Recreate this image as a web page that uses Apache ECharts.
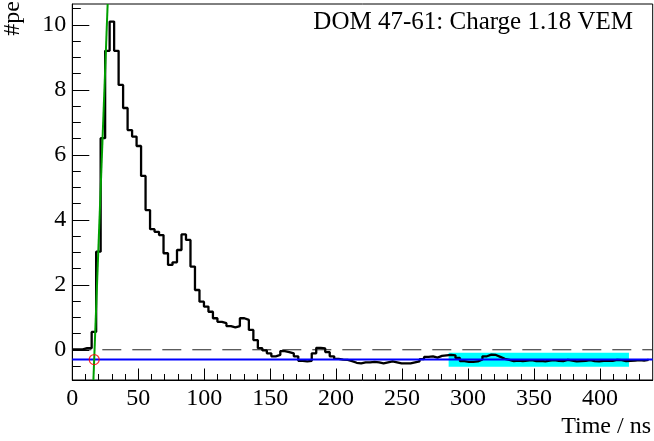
<!DOCTYPE html>
<html><head><meta charset="utf-8">
<script src="https://cdn.jsdelivr.net/npm/echarts@6/dist/echarts.min.js"></script>
<style>html,body{margin:0;padding:0;background:#fff}#c{width:654px;height:441px}</style>
</head><body><div id="c"></div>
<script>
// ---- data ----
const binStart = 1.06;      // ns, left edge of bin 0
const binWidth = 3.405;     // ns per bin
const peCounts = [
  0.01, 0.01, 0.05, 0.05, 0.55, 3.02, 6.51, 9.20, 10.10, 9.20,
  8.15, 7.44, 6.76, 6.56, 6.27, 5.35, 4.30, 3.71, 3.63, 3.53,
  2.97, 2.61, 2.69, 3.07, 3.55, 3.38, 2.56, 1.84, 1.48, 1.33,
  1.17, 0.97, 0.86, 0.82, 0.73, 0.69, 0.73, 0.97, 0.92, 0.61,
  0.30, 0.05, -0.02, -0.11, -0.20, -0.16, -0.04, -0.07, -0.11, -0.20,
  -0.34, -0.36, -0.34, -0.11, 0.06, 0.04, -0.07, -0.20, -0.28, -0.30,
  -0.31, -0.35, -0.40, -0.42, -0.39, -0.39, -0.37, -0.39, -0.42, -0.39,
  -0.36, -0.39, -0.42, -0.42, -0.42, -0.39, -0.36, -0.29, -0.22, -0.20,
  -0.24, -0.19, -0.17, -0.16, -0.17, -0.25, -0.35, -0.37, -0.37, -0.36,
  -0.30, -0.20, -0.15, -0.16, -0.22, -0.28, -0.31, -0.35, -0.33, -0.35,
  -0.33, -0.32, -0.35, -0.34, -0.36, -0.33, -0.32, -0.34, -0.35, -0.31,
  -0.33, -0.36, -0.35, -0.34, -0.32, -0.35, -0.36, -0.34, -0.33, -0.34,
  -0.31, -0.32, -0.35, -0.34, -0.33, -0.32, -0.33, -0.31
];
const xRange = [0, 440];
const yRange = [-0.93, 10.64];
const xTicksMajor = [0, 50, 100, 150, 200, 250, 300, 350, 400];
const xTicksMinor = [10,20,30,40,60,70,80,90,110,120,130,140,160,170,180,190,210,220,230,240,260,270,280,290,310,320,330,340,360,370,380,390,410,420,430];
const yTicksMajor = [0, 2, 4, 6, 8, 10];
const yTicksMinor = [-0.5,0.5,1,1.5,2.5,3,3.5,4.5,5,5.5,6.5,7,7.5,8.5,9,9.5,10.5];
const zeroLine = [[0, 0], [440, 0]];
const baselineLine = [[0, -0.30], [440, -0.30]];
const baselineWindow = [[285.3, -0.09], [422, -0.52]];
const leadingEdgeFit = [[16.0, -0.93], [26.8, 10.64]];
const startTime = [[16.6, -0.30]];
const title = 'DOM 47-61: Charge 1.18 VEM';
const xName = 'Time / ns';
const yName = '#pe';

// ---- build ----
const FONT = '"Liberation Serif", "Times New Roman", serif';
const histPts = peCounts.map((v, i) => [i === 0 ? xRange[0] : binStart + i * binWidth, v]);
histPts.push([binStart + peCounts.length * binWidth, peCounts[peCounts.length - 1]]);

const chart = echarts.init(document.getElementById('c'), null, {renderer: 'canvas'});
const axCommonX = {type: 'value', min: xRange[0], max: xRange[1], position: 'bottom', splitLine: {show: false}};
const axCommonY = {type: 'value', min: yRange[0], max: yRange[1], position: 'left', splitLine: {show: false}};
chart.setOption({
  animation: false,
  backgroundColor: '#fff',
  grid: {left: 72.3, right: 1.3, top: 4, bottom: 61, show: true, borderColor: '#000', borderWidth: 1, containLabel: false},
  xAxis: [
    Object.assign({}, axCommonX, {
      axisLine: {show: true, onZero: false, lineStyle: {color: '#000', width: 1}},
      axisTick: {show: true, inside: true, length: 11.5, customValues: xTicksMajor, lineStyle: {color: '#000', width: 1}},
      axisLabel: {show: true, customValues: xTicksMajor, margin: 7, color: '#000', fontSize: 24, fontFamily: FONT}
    }),
    Object.assign({}, axCommonX, {
      axisLine: {show: false, onZero: false},
      axisTick: {show: true, inside: true, length: 6, customValues: xTicksMinor, lineStyle: {color: '#000', width: 1}},
      axisLabel: {show: false}
    })
  ],
  yAxis: [
    Object.assign({}, axCommonY, {
      axisLine: {show: true, onZero: false, lineStyle: {color: '#000', width: 1}},
      axisTick: {show: true, inside: true, length: 17, customValues: yTicksMajor, lineStyle: {color: '#000', width: 1}},
      axisLabel: {show: true, customValues: yTicksMajor, margin: 6, color: '#000', fontSize: 24, fontFamily: FONT}
    }),
    Object.assign({}, axCommonY, {
      axisLine: {show: false, onZero: false},
      axisTick: {show: true, inside: true, length: 8.5, customValues: yTicksMinor, lineStyle: {color: '#000', width: 1}},
      axisLabel: {show: false}
    })
  ],
  series: [
    {
      type: 'line', data: zeroLine, symbol: 'none', silent: true, z: 2,
      lineStyle: {color: '#222', width: 1, type: [19, 11]},
      markArea: {silent: true, itemStyle: {color: '#00ffff', opacity: 1}, data: [[{coord: baselineWindow[0]}, {coord: baselineWindow[1]}]]}
    },
    {
      type: 'line', data: histPts, step: 'end', symbol: 'none', z: 3,
      lineStyle: {color: '#000', width: 2.3}
    },
    {
      type: 'line', data: baselineLine, symbol: 'none', z: 4,
      lineStyle: {color: '#0000ff', width: 2}
    },
    {
      type: 'line', data: leadingEdgeFit, symbol: 'none', z: 5, clip: true,
      lineStyle: {color: '#00a000', width: 2}
    },
    {
      type: 'scatter', data: startTime, symbol: 'circle', symbolSize: 10, z: 6,
      itemStyle: {color: 'rgba(0,0,0,0)', borderColor: '#ff0000', borderWidth: 1.2}
    }
  ],
  graphic: [
    {type: 'text', right: 21, top: 10, style: {text: title, fill: '#000', font: '25px ' + FONT}},
    {type: 'text', right: 3, top: 415, style: {text: xName, fill: '#000', font: '24px ' + FONT}},
    {type: 'text', x: 13, y: 1, rotation: Math.PI / 2, style: {text: yName, fill: '#000', font: '24px ' + FONT, align: 'right', verticalAlign: 'middle'}}
  ]
});
</script>
</body></html>
